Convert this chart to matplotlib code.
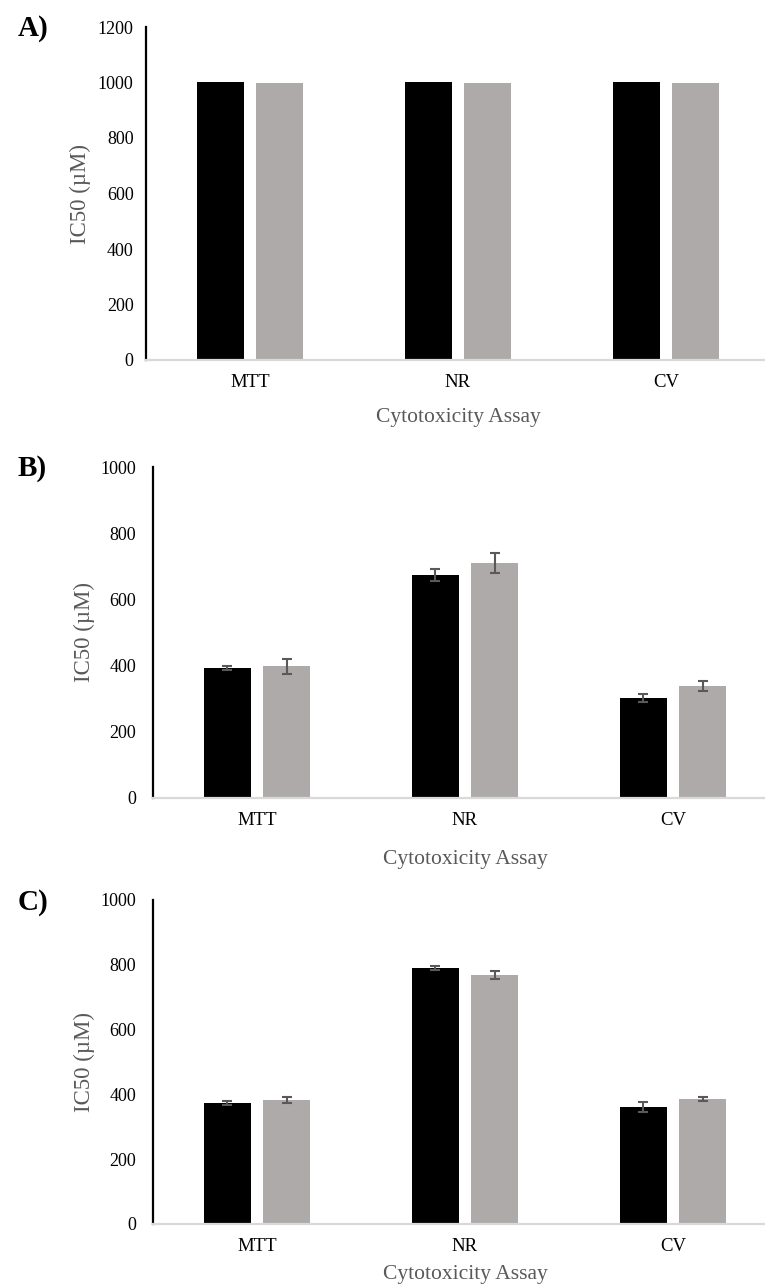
import matplotlib
matplotlib.use("Agg")
import matplotlib.pyplot as plt
import numpy as np

plt.rcParams["font.family"] = ["Liberation Serif", "DejaVu Serif"]

# Data
assays = ["MTT", "NR", "CV"]

a_black = [1002, 1002, 1002]
a_grey = [998, 998, 998]

b_black = [393, 674, 302]
b_black_err = [7, 17, 12]
b_grey = [398, 710, 338]
b_grey_err = [23, 30, 14]

c_black = [373, 790, 361]
c_black_err = [6, 7, 16]
c_grey = [383, 768, 386]
c_grey_err = [8, 12, 7]

panels = [
    dict(tag="A)", black=a_black, grey=a_grey, black_err=None, grey_err=None,
         ymax=1200, yticks=[0, 200, 400, 600, 800, 1000, 1200],
         rect=(146, 27, 360), xlab_off=48, ytick_pad=9, ylab_x=55),
    dict(tag="B)", black=b_black, grey=b_grey, black_err=b_black_err, grey_err=b_grey_err,
         ymax=1000, yticks=[0, 200, 400, 600, 800, 1000],
         rect=(153, 467, 798), xlab_off=52, ytick_pad=12, ylab_x=58),
    dict(tag="C)", black=c_black, grey=c_grey, black_err=c_black_err, grey_err=c_grey_err,
         ymax=1000, yticks=[0, 200, 400, 600, 800, 1000],
         rect=(153, 900, 1224), xlab_off=41, ytick_pad=12, ylab_x=58),
]

W, H = 765, 1285
fig = plt.figure(figsize=(W / 100, H / 100), dpi=100)

BLACK = "#000000"
GREY = "#aeaaaa"
ERR = "#595959"
AXIS_GREY = "#d9d9d9"
LABEL_GREY = "#595959"

width = 0.226
offset = 0.142
x = np.arange(len(assays))

for p in panels:
    left, top, bottom = p["rect"]
    axw = 3 * 208
    ax = fig.add_axes([left / W, 1 - bottom / H, axw / W, (bottom - top) / H])
    ekw = dict(ecolor=ERR, elinewidth=1.5, capsize=3.6, capthick=1.5)
    ax.bar(x - offset, p["black"], width, color=BLACK,
           yerr=p["black_err"], error_kw=ekw, zorder=2)
    ax.bar(x + offset, p["grey"], width, color=GREY,
           yerr=p["grey_err"], error_kw=ekw, zorder=2)

    ax.set_xlim(-0.5, 2.5)
    ax.set_ylim(0, p["ymax"])
    ax.set_yticks(p["yticks"])
    ax.set_xticks(x)
    ax.set_xticklabels(assays)

    for s in ("top", "right"):
        ax.spines[s].set_visible(False)
    ax.spines["left"].set_color("black")
    ax.spines["left"].set_linewidth(1.6)
    ax.spines["bottom"].set_color(AXIS_GREY)
    ax.spines["bottom"].set_linewidth(1.6)
    ax.tick_params(axis="both", length=0, colors="black")
    ax.tick_params(axis="x", pad=10, labelsize=13.5)
    ax.tick_params(axis="y", pad=p["ytick_pad"], labelsize=13)

    hpx = bottom - top
    ax.set_xlabel("Cytotoxicity Assay", fontsize=15.5, color=LABEL_GREY)
    ax.xaxis.set_label_coords(0.5, -p["xlab_off"] / hpx)
    ax.set_ylabel("IC50 (µM)", fontsize=16.5, color=LABEL_GREY)
    ax.yaxis.set_label_coords(-p["ylab_x"] / axw, 0.5)

    fig.text(18 / W, 1 - (top + 2) / H, p["tag"], fontsize=21, fontweight="bold",
             ha="left", va="center")

fig.savefig("out.png", dpi=100)
